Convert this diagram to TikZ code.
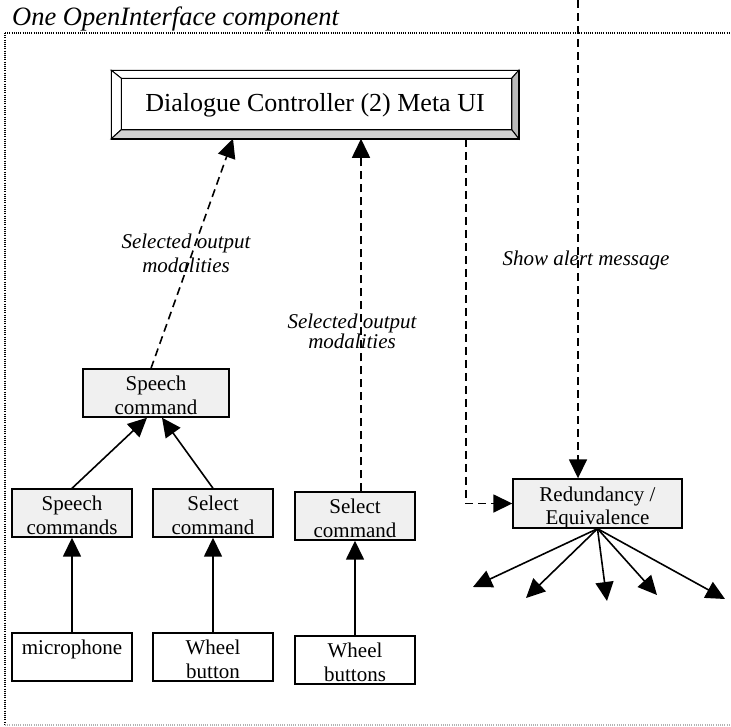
\documentclass[tikz,border=0pt]{standalone}
\usepackage{fontspec}
\setmainfont{Liberation Serif}
\usetikzlibrary{arrows.meta,calc}
\begin{document}
\begin{tikzpicture}[x=1pt,y=-1pt,
  box/.style={draw, line width=1.4pt, fill=#1, minimum width=120pt, minimum height=48pt,
    inner sep=0pt, text height=45pt, text depth=3pt, align=center,
    font=\fontsize{21}{24}\selectfont},
  box/.default=white,
  gbox/.style={box=gray!12},
  onebox/.style={box, text height=21pt, text depth=27pt},
  arr/.style={line width=1.6pt, -{Triangle[length=19pt,width=18pt]}},
  darr/.style={arr, dash pattern=on 8pt off 5pt},
  lbl/.style={font=\itshape\fontsize{21}{24}\selectfont, align=center, anchor=base, inner sep=0pt},
  dotframe/.style={line width=1.2pt, dash pattern=on 1pt off 1.2pt}
]
\useasboundingbox (0,0) rectangle (731,726);

% frame
\draw[dotframe] (5,33) -- (731,33);
\draw[dotframe] (5,33) -- (5,725);
\draw[dotframe, gray!60] (5,725) -- (731,725);
\node[anchor=base west, inner sep=0pt, font=\itshape\fontsize{26.5}{30}\selectfont] (title) at (12,25) {One OpenInterface component};

% dialogue controller
\node[draw, line width=1.5pt, minimum width=406pt, minimum height=67pt, inner sep=0pt] (dc) at (315,104.5) {};
\coordinate (i1) at ($(dc.north west)+(10,8)$);
\coordinate (i2) at ($(dc.north east)+(-7,8)$);
\coordinate (i3) at ($(dc.south east)+(-7,-9)$);
\coordinate (i4) at ($(dc.south west)+(10,-9)$);
\draw[line width=1pt, fill=white] (dc.north west) -- (dc.north east) -- (i2) -- (i1) -- cycle;
\draw[line width=1pt, fill=white] (dc.north west) -- (i1) -- (i4) -- (dc.south west) -- cycle;
\draw[line width=1pt, fill=gray!55] (dc.north east) -- (dc.south east) -- (i3) -- (i2) -- cycle;
\draw[line width=1pt, fill=gray!35] (dc.south west) -- (i4) -- (i3) -- (dc.south east) -- cycle;
\draw[line width=1.5pt] (dc.north west) rectangle (dc.south east);
\draw[line width=1.2pt] (i1) rectangle (i3);
\node[inner sep=0pt, text height=19pt, text depth=5pt, font=\fontsize{26}{30}\selectfont] (dctext) at (dc.center) {Dialogue Controller (2) Meta UI};

% boxes
\node[gbox, minimum width=146pt] (sc) at (156,393) {Speech\\command};
\node[gbox] (scs) at (72,513) {Speech\\commands};
\node[gbox] (selA) at (213,513) {Select\\command};
\node[gbox] (selB) at (355,516) {Select\\command};
\node[onebox] (mic) at (72,657) {microphone};
\node[box] (wb) at (213,657) {Wheel\\button};
\node[box] (wbs) at (355,660) {Wheel\\buttons};
\node[gbox, minimum width=169pt, minimum height=49pt, text height=45pt, text depth=4pt,
  font=\fontsize{21}{23}\selectfont] (red) at (597.5,503.5) {Redundancy /\\Equivalence};

% solid arrows
\draw[arr] (mic.north) -- (scs.south);
\draw[arr] (wb.north) -- (selA.south);
\draw[arr] (wbs.north) -- (selB.south);
\draw[arr] (scs.north) -- ([xshift=-9pt]sc.south);
\draw[arr] (selA.north) -- ([xshift=6pt]sc.south);

% dashed arrows
\draw[darr] ([xshift=-5pt]sc.north) -- ([xshift=-82pt]dc.south);
\draw[darr] ([xshift=6pt]selB.north) -- ([xshift=46pt]dc.south);
\draw[darr] ([xshift=151pt]dc.south) |- (red.west);
\coordinate (alertTop) at (578,0);
\draw[darr] (alertTop) -- (alertTop |- red.north);

% labels
\node[lbl] (l1) at (186,272) {Selected output\\modalities};
\node[lbl, font=\itshape\fontsize{21}{20}\selectfont] (l2) at (352,348) {Selected output\\modalities};
\node[lbl] (l3) at (586,265) {Show alert message};

% fan of outputs
\coordinate (f1) at (473,587);
\coordinate (f2) at (526,598);
\coordinate (f3) at (607,601);
\coordinate (f4) at (657,595);
\coordinate (f5) at (725,599);
\foreach \f in {f1,f2,f3,f4,f5} \draw[arr] (red.south) -- (\f);
\end{tikzpicture}
\end{document}
